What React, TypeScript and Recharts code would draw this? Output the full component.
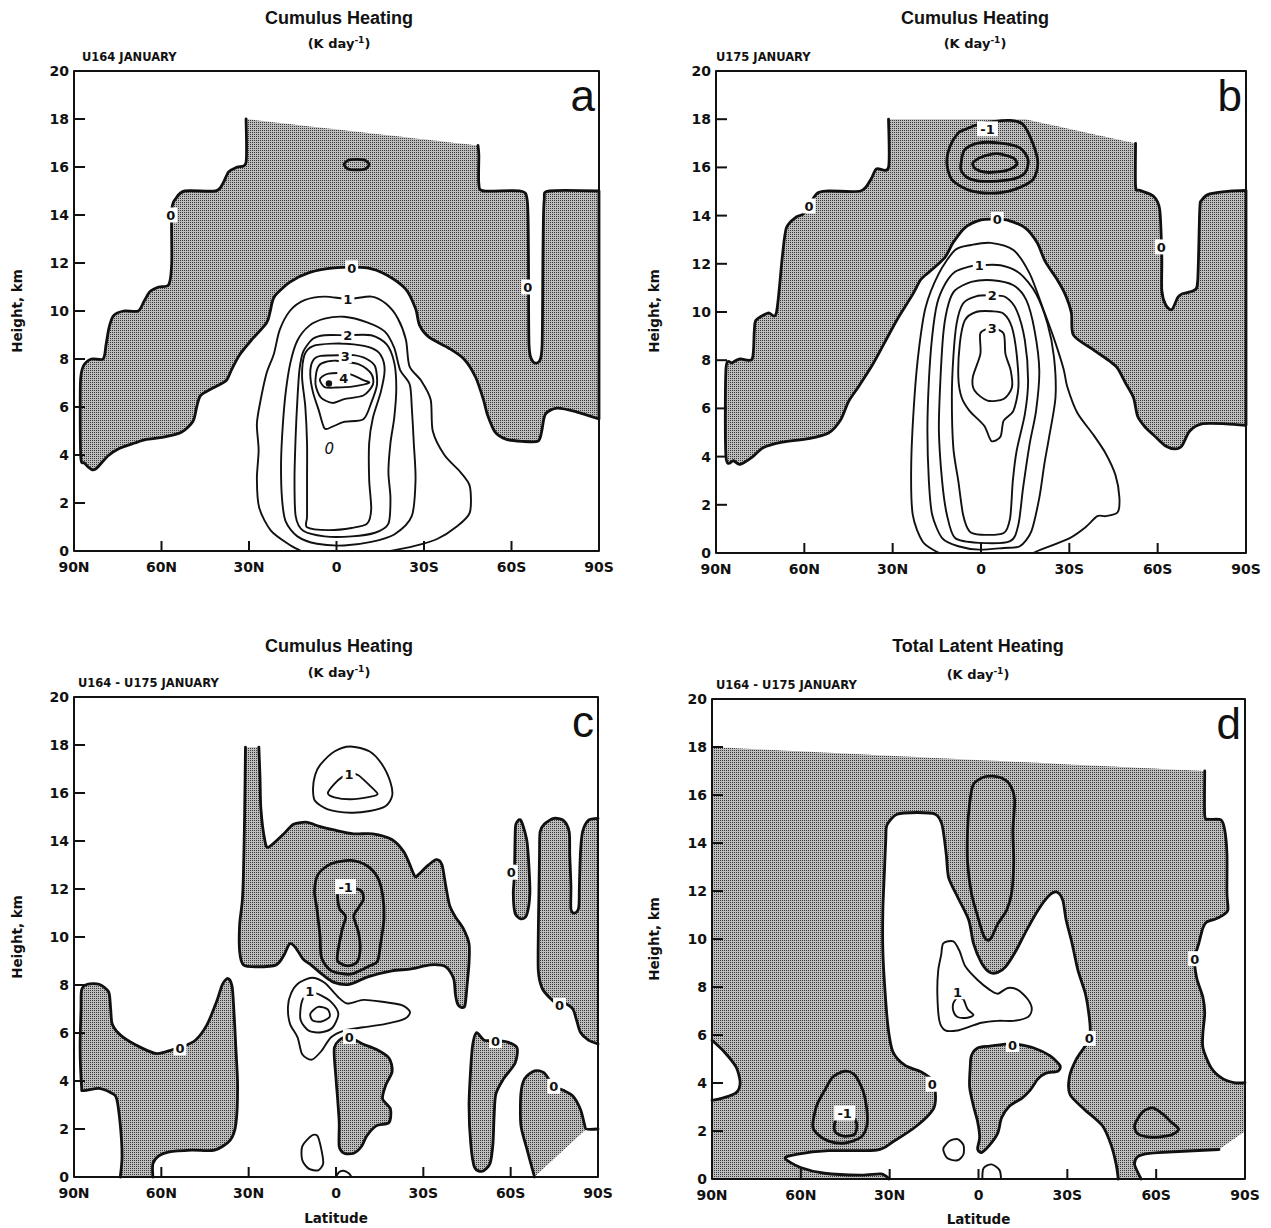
import React from "react";
import { ScatterChart, Scatter, XAxis, YAxis } from "recharts";

// [latitude (+N / -S), height km]
type Pt = [number, number];
type Tag = { x: number; y: number; t: string; kind?: "dot" | "italic" };
type Layer = { pts: Pt[]; fill?: string; stroke?: string; w?: number; closed?: boolean; corners?: number[] };

const latTicks = [90, 60, 30, 0, -30, -60, -90];
const heightTicks = [0, 2, 4, 6, 8, 10, 12, 14, 16, 18, 20];
const frameCorners: Pt[] = [[90, 0], [90, 20], [-90, 20], [-90, 0]];

// ---------- a: U164 cumulus heating ----------
const aShade: Pt[] = [
  [-48.5, 16.9], [-48.8, 16.5], [-48.8, 15.3], [-50.5, 15.0], [-63, 15.0], [-65.4, 14.6], [-65.8, 12.5],
  [-66, 8.6], [-67.3, 7.9], [-69.5, 7.9], [-70.5, 8.6], [-70.8, 12.5], [-71.2, 14.6], [-73, 15.0], [-90, 15.0],
  [-90, 5.5], [-82.2, 5.8], [-75.6, 5.95], [-71.6, 5.7], [-70.3, 4.95], [-69, 4.57], [-63.6, 4.57], [-58.3, 4.65],
  [-54.4, 4.95], [-51.7, 5.7], [-50.4, 6.3], [-47.7, 7.24], [-43.7, 8.0], [-38.4, 8.46], [-31.8, 8.9], [-28.5, 9.4],
  [-27.1, 10.1], [-23.8, 10.9], [-17.2, 11.5], [-10.5, 11.8], [0.8, 11.8], [9.4, 11.6], [16.0, 11.2], [21.3, 10.6],
  [22.7, 10.0], [24, 9.5], [29.3, 8.77], [33.3, 8.16], [36, 7.55], [37.9, 7.09], [42.6, 6.78], [46.6, 6.48],
  [47.9, 6.02], [49.2, 5.41], [53.2, 4.95], [59.9, 4.73], [65.2, 4.65], [69.2, 4.5], [74.5, 4.27], [78.4, 3.96],
  [82.4, 3.43], [84, 3.4], [86.4, 3.66], [87.7, 3.96], [87.8, 7.0], [86.8, 7.7], [84, 8.0], [80, 8.0], [79, 8.6],
  [78, 9.3], [76.5, 9.8], [73, 10.0], [68, 10.0], [66, 10.4], [64, 10.8], [61, 11.0], [57.5, 11.1], [56.5, 12],
  [56.5, 14.2], [55, 14.7], [52, 15.0], [41.5, 15.0], [39, 15.3], [37, 15.8], [34, 16.0], [31, 16.2], [31, 18.0],
];
const aRing16: Pt[] = [[-2.6, 16.1], [-4, 16.28], [-6.9, 16.32], [-9.8, 16.28], [-11.2, 16.1], [-9.8, 15.92], [-6.9, 15.88], [-4, 15.92]];
const aC1: Pt[] = [
  [12, 0], [16, 0.25], [22.5, 0.85], [26.5, 1.8], [27.3, 3.0], [26.7, 4.2], [27.3, 5.3], [26, 6.3], [24, 7.4],
  [21.5, 8.2], [19.5, 9.2], [16, 10.0], [11, 10.45], [4, 10.6], [-4, 10.5], [-12, 10.6], [-17, 10.3], [-21, 9.7],
  [-23.8, 8.8], [-25, 7.7], [-29, 7.1], [-32.3, 6.3], [-33, 5.0], [-37, 4.0], [-42.4, 3.3], [-45.7, 2.7],
  [-45.7, 1.6], [-41, 1.0], [-34.5, 0.5], [-26.5, 0.2], [-18.5, 0],
];
const aC15: Pt[] = [
  [4.1, 9.68], [-2.6, 9.76], [-10.5, 9.53], [-16.5, 9.15], [-19.8, 8.46], [-21.8, 7.55], [-25.1, 6.94], [-25.8, 6.02],
  [-26.5, 4.5], [-27.1, 2.97], [-25.8, 1.45], [-19.8, 0.69], [-11.9, 0.38], [-2.6, 0.23], [6.7, 0.3], [13.4, 0.61],
  [17.4, 1.22], [18.7, 2.21], [19.0, 3.73], [18.4, 5.26], [17.4, 6.63], [15.8, 7.85], [13.4, 8.77], [9.4, 9.38],
];
const aC2: Pt[] = [
  [-3.2, 8.99], [-11.9, 8.99], [-17.2, 8.61], [-19.8, 7.85], [-20.5, 6.78], [-19.8, 5.56], [-18.5, 4.5], [-17.8, 3.28],
  [-18.5, 2.21], [-17.8, 1.14], [-13.2, 0.76], [-5.2, 0.61], [4.1, 0.61], [11.4, 0.84], [14.0, 1.45], [14.4, 2.97],
  [14.0, 4.8], [13.4, 6.33], [12.7, 7.55], [11.4, 8.31], [8.1, 8.84], [4.1, 8.99],
];
const aC25: Pt[] = [
  [10.1, 0.99], [2.75, 0.87], [-5.2, 0.96], [-10.5, 1.14], [-11.9, 1.75], [-11.2, 2.97], [-11.2, 4.5], [-12.5, 5.56],
  [-15.2, 6.63], [-16.5, 7.55], [-15.2, 8.16], [-11.9, 8.46], [-5.9, 8.61], [1.4, 8.64], [8.1, 8.54], [11.0, 8.16],
  [11.8, 7.24], [10.7, 6.02], [10.1, 4.5], [10.1, 2.97], [10.1, 1.45],
];
const aC3: Pt[] = [
  [-2.6, 8.16], [-5.9, 8.16], [-9.9, 8.03], [-13.2, 7.7], [-13.9, 6.94], [-11.9, 6.17], [-9.2, 5.49], [-2.6, 5.38],
  [1.4, 5.18], [4.1, 5.11], [6.1, 5.87], [8.1, 6.63], [9.0, 7.39], [8.1, 7.93], [5.4, 8.13],
];
const aC35: Pt[] = [
  [6.7, 7.55], [5.1, 7.82], [0.1, 7.93], [-7.9, 7.77], [-11.9, 7.39], [-12.5, 6.94], [-9.2, 6.48], [-2.6, 6.33],
  [1.4, 6.17], [5.4, 6.4], [7.2, 6.94],
];
const aC4: Pt[] = [[5.7, 7.16], [2.75, 7.39], [-3.9, 7.39], [-9.2, 7.12], [-11.2, 7.01], [-5.9, 6.86], [0.1, 6.81], [4.1, 6.83]];
const aTags: Tag[] = [
  { x: 56.8, y: 14.0, t: "0" }, { x: -65.6, y: 11.0, t: "0" }, { x: -5.2, y: 11.8, t: "0" },
  { x: -3.9, y: 10.5, t: "1" }, { x: -3.9, y: 9.0, t: "2" }, { x: -3.0, y: 8.14, t: "3" },
  { x: -2.5, y: 7.22, t: "4" }, { x: 2.6, y: 6.98, t: "", kind: "dot" }, { x: 2.5, y: 4.27, t: "0", kind: "italic" },
];

// ---------- b: U175 cumulus heating ----------
const bShade: Pt[] = [
  [-52.5, 17.0], [-52.5, 15.2], [-53.9, 15.05], [-58.6, 14.8], [-60.7, 14.25], [-61.4, 12.3], [-61.4, 10.9],
  [-62.7, 10.3], [-64.8, 10.1], [-66.8, 10.6], [-68.2, 10.75], [-72.3, 10.9], [-73.6, 11.3], [-74.3, 14.25],
  [-75, 14.65], [-77.7, 14.9], [-84.5, 15.02], [-90, 15.05], [-90, 5.3], [-83.2, 5.36], [-75, 5.36], [-70.9, 5.06],
  [-68.2, 4.44], [-66.1, 4.32], [-62.7, 4.44], [-58.6, 4.9], [-55.9, 5.2], [-53.2, 5.67], [-51.8, 6.44],
  [-49.1, 7.05], [-46.4, 7.66], [-43.6, 7.97], [-38.2, 8.43], [-31.4, 9.04], [-30.7, 9.96], [-28.6, 10.73],
  [-25.9, 11.34], [-21.8, 12.1], [-19.1, 12.87], [-15, 13.49], [-9.5, 13.79], [-5.5, 13.85], [0, 13.82],
  [5.5, 13.49], [9.5, 12.87], [12.3, 12.26], [17.7, 11.65], [20.5, 11.34], [23.2, 10.73], [28.6, 9.66],
  [32.7, 8.74], [36.8, 7.82], [41.6, 6.9], [45, 6.28], [47.7, 5.52], [51.8, 4.98], [58.5, 4.75], [67.5, 4.6],
  [74, 4.37], [77.7, 3.98], [81.8, 3.68], [84, 3.83], [86.6, 3.98], [86.6, 7.66], [84.5, 7.89], [81.8, 8.05],
  [77.7, 8.05], [77, 9.2], [76.4, 9.66], [72.3, 9.96], [69.5, 9.96], [67.5, 12.26], [66.1, 13.49], [62.7, 13.95],
  [60, 14.1], [55.9, 14.9], [51.8, 15.02], [40.9, 15.02], [37.5, 15.48], [35.5, 15.94], [31.4, 16.0], [31.4, 18.0],
];
const bShadeTop: Pt[] = [[-15, 18.0]];
const bNegOuter: Pt[] = [
  [5.5, 17.57], [1.1, 17.78], [-4, 17.9], [-9.9, 17.95], [-14.3, 17.78], [-17.6, 17.0], [-19.3, 16.18], [-17.6, 15.49],
  [-11.0, 15.07], [-3.3, 14.93], [4.4, 15.07], [9.9, 15.49], [11.6, 16.18], [10.5, 16.88], [7.7, 17.43],
];
const bNegMid: Pt[] = [
  [6.6, 16.32], [5.5, 16.74], [1.1, 17.01], [-6.6, 17.01], [-13.2, 16.81], [-16.0, 16.32], [-14.9, 15.76],
  [-9.9, 15.49], [-1.1, 15.42], [4.4, 15.56], [6.8, 15.9],
];
const bNegCore: Pt[] = [[2.8, 16.18], [0, 16.42], [-5.5, 16.57], [-11.0, 16.39], [-12.1, 16.11], [-8.8, 15.88], [-2.2, 15.79], [1.7, 15.93]];
const bU05: Pt[] = [
  [14, 0], [15.4, 0.07], [19.9, 0.49], [23.2, 1.6], [23.7, 3.68], [22.6, 6.46], [21.0, 8.54], [18.8, 10.2],
  [14.3, 11.6], [8.8, 12.57], [3.3, 12.78], [-3.3, 12.87], [-11.0, 12.57], [-16.5, 11.6], [-20.9, 10.2],
  [-24.5, 9.0], [-28, 7.66], [-29.3, 6.9], [-32.7, 5.82], [-38.2, 4.9], [-42.3, 4.14], [-45.7, 3.22], [-47, 2.3],
  [-46.4, 1.69], [-42.3, 1.53], [-39.5, 1.53], [-35.5, 1.07], [-30, 0.61], [-20.5, 0.15], [-17.7, 0],
];
const bU1: Pt[] = [
  [0.6, 11.94], [-6.6, 11.94], [-13.2, 11.6], [-18.7, 10.76], [-22.6, 9.51], [-24.8, 8.12], [-25.3, 6.46],
  [-23.1, 4.79], [-21.5, 3.68], [-19.8, 2.29], [-17.1, 0.9], [-13.2, 0.28], [-7.7, 0.21], [0.6, 0.14], [7.7, 0.28],
  [13.2, 0.62], [16.6, 1.6], [17.7, 2.98], [18.2, 5.07], [17.7, 7.15], [16.6, 8.96], [14.9, 10.35], [12.1, 11.18],
  [8.8, 11.67], [4.4, 11.87],
];
const bU15: Pt[] = [
  [-3.8, 11.32], [-11, 11.11], [-15.4, 10.49], [-18.2, 9.23], [-19.8, 7.57], [-18.7, 5.9], [-16.5, 4.51],
  [-14.3, 2.71], [-12.7, 1.18], [-9.9, 0.49], [0.6, 0.42], [8.8, 0.62], [11.6, 1.6], [13.2, 2.98], [14.3, 5.07],
  [13.8, 7.15], [12.7, 9.23], [11.0, 10.35], [8.8, 10.9], [3.3, 11.25],
];
const bU2: Pt[] = [
  [-3.8, 10.69], [-8.3, 10.62], [-12.1, 10.07], [-14.9, 8.82], [-16, 7.15], [-14.9, 5.76], [-12.1, 4.24],
  [-10.8, 2.98], [-9.9, 1.46], [-7.7, 0.83], [0.0, 0.76], [3.9, 0.9], [6.1, 1.6], [7.7, 2.98], [9.4, 4.37],
  [9.9, 6.46], [9.4, 8.12], [8.3, 9.51], [6.1, 10.35], [1.7, 10.65],
];
const bTail: Pt[] = [
  [-3.8, 10.03], [-7.7, 9.93], [-10.5, 9.37], [-12.1, 8.26], [-12.7, 6.87], [-11, 5.9], [-7.7, 5.49], [-6.6, 4.82],
  [-3.5, 4.65], [-1.1, 5.28], [3.9, 5.9], [6.6, 6.46], [7.7, 7.29], [7.2, 8.68], [5.5, 9.65], [1.7, 10.0],
];
const bCore: Pt[] = [
  [-3.8, 9.33], [-7.7, 9.1], [-8.3, 8.26], [-10.1, 7.57], [-10.5, 6.87], [-7.7, 6.39], [-2.2, 6.32], [2.2, 6.74],
  [2.8, 7.29], [0.2, 8.26], [0.2, 9.12],
];
const bTags: Tag[] = [
  { x: 58.4, y: 14.4, t: "0" }, { x: -61.2, y: 12.7, t: "0" }, { x: -5.5, y: 13.84, t: "0" },
  { x: -2.2, y: 17.6, t: "-1" }, { x: 0.6, y: 11.94, t: "1" }, { x: -3.8, y: 10.69, t: "2" }, { x: -3.8, y: 9.33, t: "3" },
];

// ---------- c: U164 - U175 cumulus heating ----------
const cR1: Pt[] = [
  [62.9, 0], [62.9, 0.56], [60.9, 0.88], [57.6, 1.04], [49.6, 1.12], [41.7, 1.12], [36.4, 1.53], [34.4, 2.2],
  [33.8, 3.78], [34.4, 5.38], [35.1, 6.99], [35.7, 7.95], [37.1, 8.27], [39.0, 8.03], [41.0, 7.31], [44.3, 6.35],
  [48.3, 5.7], [53.6, 5.38], [56.3, 5.3], [61.5, 5.14], [66.8, 5.38], [73.5, 5.86], [76.8, 6.35], [77.4, 6.99],
  [78.1, 7.71], [81.4, 8.03], [85.4, 8.03], [87.4, 7.79], [87.6, 6.99], [87.9, 5.38], [87.4, 3.78], [86.8, 3.6],
  [81.4, 3.69], [77.2, 3.5], [75.4, 3.29], [74.1, 2.17], [73.5, 0.88], [74.1, 0],
];
const cR2: Pt[] = [
  [26.5, 17.91], [26.1, 16.63], [25.8, 15.34], [24.5, 14.06], [23.2, 13.74], [17.9, 14.3], [14.6, 14.7], [9.9, 14.78],
  [6.0, 14.62], [0.7, 14.46], [-6.0, 14.3], [-12.6, 14.3], [-19.2, 14.06], [-23.2, 13.57], [-25.1, 13.09],
  [-27.1, 12.53], [-28.4, 12.61], [-31.1, 12.93], [-34.4, 13.22], [-36.4, 13.01], [-37.7, 12.13], [-39.0, 11.33],
  [-41.0, 10.84], [-43.7, 10.36], [-45.7, 9.72], [-45.7, 8.92], [-45.0, 7.95], [-44.3, 7.15], [-43.0, 7.07],
  [-41.7, 7.23], [-41.0, 7.63], [-40.4, 8.27], [-37.7, 8.76], [-32.4, 8.84], [-25.8, 8.67], [-19.2, 8.59],
  [-11.2, 8.35], [-4.6, 8.03], [0.7, 8.11], [4.6, 8.43], [8.6, 8.84], [11.3, 9.08], [13.9, 9.56], [15.9, 9.72],
  [17.9, 9.24], [20.5, 8.84], [27.1, 8.76], [31.8, 8.84], [33.1, 9.4], [33.1, 10.52], [32.2, 11.49], [31.8, 12.61],
  [31.4, 15.02], [31.1, 17.91],
];
const cNegOuter: Pt[] = [
  [7.4, 11.91], [6.1, 12.62], [1.7, 13.05], [-5.0, 13.19], [-10.5, 12.98], [-14.3, 12.48], [-16.0, 11.77],
  [-16.5, 10.78], [-15.4, 9.79], [-14.3, 9.0], [-11.6, 8.8], [-5.0, 8.45], [1.7, 8.6], [5.0, 9.15], [5.5, 10.07], [6.6, 11.21],
];
const cNegKey: Pt[] = [
  [-0.55, 11.84], [-1.1, 11.21], [-3.3, 10.85], [-2.2, 10.35], [-0.8, 9.5], [-0.55, 9.0], [-3.9, 8.8], [-7.2, 8.95],
  [-8.3, 9.5], [-7.7, 10.21], [-6.1, 10.85], [-7.7, 11.21], [-9.4, 11.56], [-8.8, 11.91], [-6.1, 12.03], [-2.2, 12.03],
];
const cTopOuter: Pt[] = [
  [7.9, 16.17], [7.2, 16.74], [5.5, 17.16], [0.55, 17.73], [-5.0, 17.94], [-11.6, 17.73], [-16.0, 17.16],
  [-18.7, 16.45], [-19.3, 15.89], [-17.1, 15.46], [-11.6, 15.25], [-5.0, 15.18], [2.8, 15.32], [7.2, 15.67],
];
const cTopInner: Pt[] = [
  [2.8, 16.0], [0.55, 16.38], [-2.2, 16.67], [-5.0, 16.81], [-7.7, 16.74], [-11.6, 16.31], [-14.3, 15.96],
  [-11.6, 15.84], [-5.0, 15.74], [0.55, 15.82],
];
const cMidOuter: Pt[] = [
  [16.5, 7.09], [15.4, 7.66], [12.7, 8.09], [8.3, 8.3], [3.9, 8.09], [-0.55, 7.52], [-3.9, 7.23], [-9.4, 7.38],
  [-16.0, 7.3], [-22.6, 7.16], [-25.4, 6.88], [-23.7, 6.6], [-17.1, 6.38], [-9.4, 6.24], [-2.8, 6.1], [1.7, 5.82],
  [5.0, 5.25], [8.3, 4.89], [11.6, 5.11], [13.2, 5.82], [15.8, 6.38],
];
const cMidInner: Pt[] = [
  [12.1, 7.09], [11.0, 7.49], [8.3, 7.69], [5.5, 7.59], [1.7, 7.3], [-0.8, 6.81], [1.1, 6.24], [5.0, 6.03],
  [9.4, 6.1], [12.1, 6.52],
];
const cMidCore: Pt[] = [[8.8, 6.81], [6.1, 7.09], [2.8, 6.98], [2.2, 6.67], [5.0, 6.48], [8.0, 6.52]];
const cR3: Pt[] = [
  [0.55, 5.39], [-2.8, 5.82], [-6.1, 5.74], [-9.4, 5.53], [-13.8, 5.32], [-18.2, 4.96], [-19.3, 4.4], [-17.1, 3.83],
  [-16.0, 3.26], [-18.7, 2.84], [-18.2, 2.27], [-13.8, 2.13], [-10.5, 1.7], [-8.8, 1.28], [-6.1, 0.99],
  [-2.8, 0.99], [-1.1, 1.28], [-1.1, 2.27], [-0.55, 3.26], [0, 4.11],
];
const cSmall: Pt[] = [[11.6, 1.28], [8.3, 1.73], [6.3, 1.7], [5.0, 1.13], [4.4, 0.57], [6.1, 0.28], [9.4, 0.35], [11.6, 0.71]];
const cBump: Pt[] = [[0.0, 0], [-1.0, 0.2], [-2.6, 0.26], [-4.5, 0.15], [-5.3, 0]];
const cR4: Pt[] = [
  [-61.8, 14.7], [-63.5, 14.86], [-65.5, 14.06], [-66.2, 13.09], [-66.6, 11.81], [-65.5, 10.92], [-63.5, 10.76],
  [-61.5, 11.0], [-60.9, 11.81], [-61.3, 12.61], [-61.5, 14.06],
];
const cR5: Pt[] = [
  [-90, 14.94], [-86.7, 14.86], [-84.7, 14.38], [-84.0, 13.57], [-83.6, 12.13], [-83.4, 11.24], [-82.0, 11.0],
  [-80.7, 11.16], [-80.7, 12.13], [-80.3, 13.41], [-80.1, 14.38], [-78.1, 14.86], [-74.8, 14.94], [-71.5, 14.7],
  [-70.1, 14.38], [-69.9, 13.41], [-69.7, 11.81], [-69.5, 10.2], [-69.5, 8.59], [-70.8, 7.87], [-73.4, 7.47],
  [-76.8, 7.15], [-78.7, 7.23], [-81.4, 6.99], [-82.7, 6.51], [-84.0, 6.02], [-86.7, 5.7], [-90, 5.54],
];
const cR6: Pt[] = [
  [-48.3, 6.02], [-50.9, 5.7], [-54.3, 5.7], [-58.9, 5.62], [-62.2, 5.38], [-61.5, 4.74], [-57.6, 4.1], [-54.9, 3.45],
  [-54.3, 2.49], [-53.9, 1.37], [-52.9, 0.56], [-50.3, 0.24], [-47.6, 0.4], [-46.3, 1.37], [-45.7, 2.97],
  [-46.3, 4.58], [-47.0, 5.54],
];
const cR7: Pt[] = [
  [-68.2, 0], [-65.5, 1.2], [-63.5, 2.17], [-63.5, 3.45], [-64.8, 4.1], [-68.2, 4.42], [-71.5, 4.34], [-74.8, 3.78],
  [-78.1, 3.61], [-81.4, 3.37], [-84.0, 2.81], [-85.4, 2.17], [-86.0, 2.0],
];
const cR7Tail: Pt[] = [[-90, 2.0]];
const cTags: Tag[] = [
  { x: 53.6, y: 5.38, t: "0" }, { x: -3.3, y: 12.1, t: "-1" }, { x: -4.5, y: 16.8, t: "1" }, { x: 9.0, y: 7.75, t: "1" },
  { x: -4.6, y: 5.85, t: "0" }, { x: -60.2, y: 12.7, t: "0" }, { x: -76.8, y: 7.15, t: "0" },
  { x: -54.8, y: 5.68, t: "0" }, { x: -74.8, y: 3.78, t: "0" },
];

// ---------- d: U164 - U175 total latent heating ----------
const dWestEdge: Pt[] = [[90, 0], [90, 18]];
const dEast: Pt[] = [
  [-76.4, 17.0], [-76.4, 15.15], [-77.8, 14.99], [-81.9, 14.96], [-83.2, 14.51], [-83.9, 13.54], [-83.9, 11.92],
  [-84.2, 11.2], [-82, 10.95], [-79.8, 10.82], [-77.1, 10.71], [-75.8, 10.47], [-74.4, 9.82], [-73.0, 9.18],
  [-73.7, 8.37], [-75.8, 7.56], [-76.4, 6.91], [-75.8, 6.11], [-75.8, 5.46], [-78.5, 4.65], [-82.6, 4.17],
  [-86.7, 4.01], [-90, 4.01],
];
const dRightEdge: Pt[] = [[-90, 1.99]];
const dWedge: Pt[] = [[-54.9, 0], [-52.7, 0.6], [-53.5, 0.9], [-55.4, 1.02], [-60.8, 1.1], [-81.2, 1.23]];
const dW1: Pt[] = [
  [30.2, 0], [32.9, 0.21], [39.7, 0.16], [52.0, 0.24], [60.1, 0.48], [65.3, 0.86], [61.5, 1.03], [50.6, 1.18],
  [34.3, 1.2], [28.9, 1.55], [20.7, 2.23], [15.3, 2.91], [14.5, 3.44], [15.5, 4.09], [19.3, 4.46], [24.8, 4.73],
  [28.9, 5.3], [30.5, 6.27], [31.6, 7.88], [32.3, 9.5], [32.3, 11.2], [31.8, 12.73], [31.3, 14.18], [30.9, 14.75],
  [27.5, 15.2], [20.7, 15.27], [14.6, 15.2], [12.3, 14.75], [10.9, 13.54], [10.1, 12.57], [7.1, 11.76], [3.3, 10.79],
  [1.7, 9.82], [-1.0, 9.01], [-3.8, 8.61], [-6.5, 8.61], [-9.2, 8.85], [-12.6, 9.5], [-16.0, 10.31], [-20.1, 11.2],
  [-24.1, 11.84], [-26.6, 11.95], [-28.5, 11.6], [-29.6, 10.79], [-31.6, 9.82], [-33.6, 8.69], [-36.1, 7.72],
  [-37.4, 6.75], [-37.7, 6.11], [-36.4, 5.62], [-33.0, 4.98], [-30.7, 4.25], [-30.9, 3.52], [-35.7, 2.91],
  [-41.8, 2.23], [-44.8, 1.42], [-46.5, 0.61], [-47.2, 0],
];
const dW2: Pt[] = [[90, 5.78], [85.9, 5.3], [81.8, 4.65], [80.5, 4.01], [81.8, 3.6], [85.9, 3.39], [90, 3.28]];
const dFinger: Pt[] = [
  [3.0, 15.64], [1.7, 16.45], [-2.4, 16.77], [-7.1, 16.74], [-10.5, 16.45], [-12.2, 15.8], [-11.6, 14.51],
  [-11.9, 13.21], [-11.2, 11.92], [-9.5, 11.2], [-6.5, 10.63], [-4.4, 10.06], [-3.1, 9.95], [-1.7, 10.15],
  [0.3, 10.95], [2.4, 11.92], [3.7, 13.21], [3.7, 14.51],
];
const dBlob: Pt[] = [
  [2.4, 5.14], [0.3, 5.46], [-3.8, 5.54], [-9.2, 5.62], [-12.6, 5.62], [-18.7, 5.46], [-24.1, 5.14], [-27.5, 4.73],
  [-26.8, 4.49], [-22.8, 4.41], [-20.1, 4.17], [-17.3, 3.68], [-14.6, 3.36], [-10.5, 3.04], [-7.8, 2.55],
  [-6.5, 1.91], [-3.8, 1.42], [-1.0, 1.1], [0.3, 1.26], [-0.4, 1.74], [0.3, 2.39], [1.7, 3.04], [3.0, 3.84], [2.8, 4.65],
];
const dLoopOuter: Pt[] = [
  [13.6, 8.69], [12.6, 9.34], [11.9, 9.82], [8.5, 9.9], [6.4, 9.5], [4.4, 8.85], [0.3, 8.29], [-3.8, 7.88],
  [-6.5, 7.72], [-9.9, 7.96], [-13.3, 7.88], [-16.7, 7.48], [-18.0, 7.08], [-16.7, 6.75], [-11.9, 6.59],
  [-6.5, 6.59], [-1.0, 6.51], [3.0, 6.35], [7.1, 6.19], [11.2, 6.19], [13.2, 6.59], [13.9, 7.72],
];
const dLoopInner: Pt[] = [[8.5, 7.32], [7.1, 7.56], [5.1, 7.48], [3.7, 7.08], [1.7, 6.83], [3.7, 6.72], [7.1, 6.75], [8.5, 7.0]];
const dSmallLoop: Pt[] = [[11.9, 1.26], [9.8, 1.58], [7.1, 1.66], [5.1, 1.42], [5.1, 1.02], [7.1, 0.78], [10.5, 0.86]];
const dSemi: Pt[] = [[-1.3, 0], [-1.7, 0.45], [-4.4, 0.61], [-7.1, 0.37], [-7.6, 0]];
const dNeg: Pt[] = [
  [56.0, 2.23], [54.7, 3.04], [52.0, 3.68], [49.2, 4.25], [45.2, 4.49], [41.8, 4.33], [39.0, 3.68], [37.7, 2.88],
  [37.7, 2.23], [39.7, 1.74], [45.2, 1.5], [50.6, 1.58], [54.7, 1.91],
];
const dNegCore: Pt[] = [[48.6, 2.3], [48.3, 1.94], [45.2, 1.78], [41.8, 1.87], [41.1, 2.26], [42.5, 2.55], [47.5, 2.55]];
const dBlob60: Pt[] = [
  [-52.7, 2.23], [-55.4, 2.79], [-58.8, 2.96], [-62.2, 2.71], [-64.9, 2.39], [-67.6, 2.07], [-64.9, 1.83],
  [-58.8, 1.74], [-54.0, 1.87],
];
const dTags: Tag[] = [
  { x: -73.0, y: 9.18, t: "0" }, { x: -37.4, y: 5.86, t: "0" }, { x: -11.5, y: 5.6, t: "0" }, { x: 15.6, y: 3.95, t: "0" },
  { x: 7.1, y: 7.8, t: "1" }, { x: 45.2, y: 2.75, t: "-1" },
];

// ---------- drawing ----------
const INK = "#111";
const SHADE = "shade";
const BOLD_W = 2.8;
const THIN_W = 1.9;
const TICK_FONT = "'DejaVu Sans', sans-serif";
const TITLE_FONT = "'Liberation Sans', Arial, sans-serif";

// points sitting on the plot border are joined with straight runs, not curves
const borderCorners = (pts: Pt[]) =>
  pts.reduce<number[]>((acc, [x, y], i) => (Math.abs(x) === 90 || y === 0 ? [...acc, i] : acc), []);

const shadeFill = (pts: Pt[], corners: number[] = []): Layer => ({
  pts, fill: SHADE, closed: true, corners: [...corners, ...borderCorners(pts)],
});
const edgeShade = (pts: Pt[]) => shadeFill(pts, [0, pts.length - 1]);
const whiteFill = (pts: Pt[]): Layer => ({ pts, fill: "#fff", closed: true, corners: borderCorners(pts) });
const zeroLine = (pts: Pt[], closed = true): Layer => ({ pts, stroke: INK, w: BOLD_W, closed, corners: borderCorners(pts) });
const posLine = (pts: Pt[], closed = true): Layer => ({ pts, stroke: INK, w: THIN_W, closed, corners: borderCorners(pts) });

const aLayers: Layer[] = [
  edgeShade(aShade),
  zeroLine(aShade, false),
  zeroLine(aRing16),
  posLine(aC1, false), posLine(aC15), posLine(aC2), posLine(aC25), posLine(aC3), posLine(aC35), posLine(aC4),
];

const bLayers: Layer[] = [
  shadeFill([...bShade, ...bShadeTop], [0, bShade.length - 1, bShade.length]),
  zeroLine(bShade, false),
  zeroLine(bNegOuter), zeroLine(bNegMid), zeroLine(bNegCore),
  posLine(bU05, false), posLine(bU1), posLine(bU15), posLine(bU2), posLine(bTail), posLine(bCore),
];

const cLayers: Layer[] = [
  edgeShade(cR1), edgeShade(cR2), shadeFill(cR3), shadeFill(cR4), edgeShade(cR5), shadeFill(cR6), edgeShade(cR7),
  zeroLine(cR1, false), zeroLine(cR2, false), zeroLine(cR3), zeroLine(cR4), zeroLine(cR5, false), zeroLine(cR6),
  zeroLine([...cR7, ...cR7Tail], false),
  zeroLine(cNegOuter), zeroLine(cNegKey),
  posLine(cTopOuter), posLine(cTopInner), posLine(cMidOuter), posLine(cMidInner), posLine(cMidCore),
  posLine(cSmall), posLine(cBump, false),
];

const dWedgeBack = [...dWedge].reverse();
const dShadeOutline: Pt[] = [...dEast, ...dRightEdge, ...dWedgeBack, ...dWestEdge];

const dLayers: Layer[] = [
  shadeFill(dShadeOutline, [0, dEast.length + 1]),
  whiteFill(dW1), whiteFill(dW2),
  shadeFill(dBlob),
  zeroLine(dEast, false), zeroLine(dWedge, false), zeroLine(dW1, false), zeroLine(dW2, false),
  zeroLine(dFinger), zeroLine(dBlob), zeroLine(dNeg), zeroLine(dNegCore), zeroLine(dBlob60),
  posLine(dLoopOuter), posLine(dLoopInner), posLine(dSmallLoop), posLine(dSemi, false),
];

type XY = { x: number; y: number };

// Catmull-Rom through the projected points as cubic Beziers; corner points get no tangent
function smoothPath(p: XY[], closed: boolean, corners: number[] = [], k = 0.8) {
  const n = p.length;
  const hard = new Set(corners);
  const idx = (i: number) => (closed ? (i + n) % n : Math.min(n - 1, Math.max(0, i)));
  const f = (v: number) => v.toFixed(2);
  let d = `M${f(p[0].x)},${f(p[0].y)}`;
  const segs = closed ? n : n - 1;
  for (let i = 0; i < segs; i++) {
    const ib = idx(i);
    const ic = idx(i + 1);
    const a = p[idx(i - 1)];
    const b = p[ib];
    const c = p[ic];
    const e = p[idx(i + 2)];
    const kb = hard.has(ib) ? 0 : k;
    const kc = hard.has(ic) ? 0 : k;
    const c1x = b.x + ((c.x - a.x) * kb) / 6;
    const c1y = b.y + ((c.y - a.y) * kb) / 6;
    const c2x = c.x - ((e.x - b.x) * kc) / 6;
    const c2y = c.y - ((e.y - b.y) * kc) / 6;
    d += ` C${f(c1x)},${f(c1y)} ${f(c2x)},${f(c2y)} ${f(c.x)},${f(c.y)}`;
  }
  return closed ? d + " Z" : d;
}

function Contour(props: any) {
  const { points, paint, ink, w, shut, corners } = props;
  if (!points || points.length < 2) return null;
  return (
    <path
      d={smoothPath(points, !!shut, corners)}
      fill={paint || "none"}
      stroke={ink || "none"}
      strokeWidth={w || 0}
      strokeLinejoin="round"
      strokeLinecap="round"
    />
  );
}

const blank = () => <g />;

function TagMark(props: any) {
  const { cx, cy, payload } = props;
  if (cx == null || cy == null || !payload) return <g />;
  if (payload.kind === "dot") return <circle cx={cx} cy={cy} r={3.2} fill={INK} />;
  if (payload.kind === "italic")
    return (
      <text x={cx} y={cy + 5} textAnchor="middle" fontFamily={TICK_FONT} fontStyle="italic" fontSize={15} fill={INK}>
        {payload.t}
      </text>
    );
  const w = payload.t.length * 8 + 5;
  return (
    <g>
      <rect x={cx - w / 2} y={cy - 7.5} width={w} height={15} fill="#fff" />
      <text x={cx} y={cy + 5} textAnchor="middle" fontFamily={TICK_FONT} fontWeight="bold" fontSize={13} fill={INK}>
        {payload.t}
      </text>
    </g>
  );
}

const latName = (v: number) => (v > 0 ? `${v}N` : v < 0 ? `${-v}S` : "0");
const isEdgeLat = (v: number) => Math.abs(v) === 90;
const isEdgeHeight = (v: number) => v === 0 || v === 20;

function BottomTick(props: any) {
  const { x, y, payload } = props;
  const v = payload.value as number;
  return (
    <g>
      {!isEdgeLat(v) && <line x1={x} x2={x} y1={y} y2={y - 10} stroke={INK} strokeWidth={2} />}
      <text x={x} y={y + 21} textAnchor="middle" fontFamily={TICK_FONT} fontWeight="bold" fontSize={14} fill={INK}>
        {latName(v)}
      </text>
    </g>
  );
}

function TopTick(props: any) {
  const { x, y, payload } = props;
  if (isEdgeLat(payload.value)) return <g />;
  return <line x1={x} x2={x} y1={y} y2={y + 10} stroke={INK} strokeWidth={2} />;
}

function LeftTick(props: any) {
  const { x, y, payload } = props;
  const v = payload.value as number;
  return (
    <g>
      {!isEdgeHeight(v) && <line x1={x} x2={x + 11} y1={y} y2={y} stroke={INK} strokeWidth={2} />}
      <text x={x - 5} y={y + 5} textAnchor="end" fontFamily={TICK_FONT} fontWeight="bold" fontSize={14} fill={INK}>
        {v}
      </text>
    </g>
  );
}

function RightTick(props: any) {
  const { x, y, payload } = props;
  if (isEdgeHeight(payload.value)) return <g />;
  return <line x1={x} x2={x - 11} y1={y} y2={y} stroke={INK} strokeWidth={2} />;
}

const rows = (pts: Pt[]) => pts.map(([x, y]) => ({ x, y }));

type PanelSpec = {
  id: string;
  left: number;
  top: number;
  width: number;
  height: number;
  // plot box edges in panel coordinates
  plot: { left: number; right: number; top: number; bottom: number };
  title: string;
  titleX: number;
  titleY: number;
  unitsY: number;
  run: string;
  runX: number;
  runY: number;
  heightLabelX: number;
  heightLabelY: number;
  latitudeY?: number;
  layers: Layer[];
  tags: Tag[];
};

const panels: PanelSpec[] = [
  {
    id: "a", left: 0, top: 0, width: 635, height: 600, plot: { left: 74, right: 599, top: 71, bottom: 551 },
    title: "Cumulus Heating", titleX: 339, titleY: 18, unitsY: 43, run: "U164 JANUARY", runX: 82, runY: 58,
    heightLabelX: 18, heightLabelY: 311, layers: aLayers, tags: aTags,
  },
  {
    id: "b", left: 636, top: 0, width: 635, height: 600, plot: { left: 80, right: 610, top: 71, bottom: 553 },
    title: "Cumulus Heating", titleX: 339, titleY: 18, unitsY: 43, run: "U175 JANUARY", runX: 80, runY: 58,
    heightLabelX: 19, heightLabelY: 311, layers: bLayers, tags: bTags,
  },
  {
    id: "c", left: 0, top: 600, width: 635, height: 628, plot: { left: 74, right: 598, top: 97, bottom: 577 },
    title: "Cumulus Heating", titleX: 339, titleY: 46, unitsY: 72, run: "U164 - U175 JANUARY", runX: 78, runY: 84,
    heightLabelX: 18, heightLabelY: 337, latitudeY: 619, layers: cLayers, tags: cTags,
  },
  {
    id: "d", left: 636, top: 600, width: 635, height: 628, plot: { left: 76, right: 609, top: 99, bottom: 579 },
    title: "Total Latent Heating", titleX: 342, titleY: 46, unitsY: 74, run: "U164 - U175 JANUARY", runX: 80, runY: 86,
    heightLabelX: 19, heightLabelY: 339, latitudeY: 620, layers: dLayers, tags: dTags,
  },
];

const centered = (x: number, y: number): React.CSSProperties => ({
  position: "absolute",
  left: x,
  top: y,
  transform: "translate(-50%, -50%)",
  whiteSpace: "nowrap",
  lineHeight: 1,
  color: INK,
});

// each axis takes 1px of the margin
const AXIS_PX = 1;

function Panel({ spec }: { spec: PanelSpec }) {
  const pid = `stipple-${spec.id}`;
  const paint = (f?: string) => (f === SHADE ? `url(#${pid})` : f);
  const { plot } = spec;
  const margin = {
    top: plot.top - AXIS_PX,
    left: plot.left - AXIS_PX,
    right: spec.width - plot.right - AXIS_PX,
    bottom: spec.height - plot.bottom - AXIS_PX,
  };
  const plotCenterX = (plot.left + plot.right) / 2;
  return (
    <div style={{ position: "absolute", left: spec.left, top: spec.top, width: spec.width, height: spec.height }}>
      <ScatterChart width={spec.width} height={spec.height} margin={margin}>
        <defs>
          <pattern id={pid} width={2} height={2} patternUnits="userSpaceOnUse">
            <rect width={2} height={2} fill="#bdbdbd" />
            <rect width={1} height={1} fill="#3a3a3a" />
          </pattern>
        </defs>
        {spec.layers.map((l, i) => (
          <Scatter
            key={`${spec.id}-${i}`}
            data={rows(l.pts)}
            isAnimationActive={false}
            shape={blank}
            line={<Contour paint={paint(l.fill)} ink={l.stroke} w={l.w} shut={l.closed} corners={l.corners} />}
          />
        ))}
        <Scatter data={spec.tags} isAnimationActive={false} shape={(p: any) => <TagMark {...p} />} />
        <Scatter
          data={rows(frameCorners)}
          isAnimationActive={false}
          shape={blank}
          line={<Contour ink={INK} w={2} shut corners={[0, 1, 2, 3]} />}
        />
        <XAxis
          dataKey="x" type="number" domain={[-90, 90]} reversed ticks={latTicks} interval={0}
          height={AXIS_PX} tickSize={0} tickMargin={0} axisLine={false} tickLine={false}
          tick={(p: any) => <BottomTick {...p} />}
        />
        <XAxis
          xAxisId="top" orientation="top" type="number" domain={[-90, 90]} reversed ticks={latTicks}
          interval={0} height={AXIS_PX} tickSize={0} tickMargin={0} axisLine={false} tickLine={false}
          tick={(p: any) => <TopTick {...p} />}
        />
        <YAxis
          dataKey="y" type="number" domain={[0, 20]} ticks={heightTicks} interval={0}
          width={AXIS_PX} tickSize={0} tickMargin={0} axisLine={false} tickLine={false}
          tick={(p: any) => <LeftTick {...p} />}
        />
        <YAxis
          yAxisId="right" orientation="right" type="number" domain={[0, 20]} ticks={heightTicks}
          interval={0} width={AXIS_PX} tickSize={0} tickMargin={0} axisLine={false} tickLine={false}
          tick={(p: any) => <RightTick {...p} />}
        />
      </ScatterChart>

      <div style={{ ...centered(spec.titleX, spec.titleY), fontFamily: TITLE_FONT, fontWeight: 700, fontSize: 18 }}>
        {spec.title}
      </div>
      <div style={{ ...centered(spec.titleX, spec.unitsY), fontFamily: TICK_FONT, fontWeight: 700, fontSize: 13 }}>
        (K day
        <span style={{ fontSize: 9, position: "relative", top: -5 }}>-1</span>)
      </div>
      <div
        style={{
          position: "absolute", left: spec.runX, top: spec.runY, transform: "translateY(-50%)", whiteSpace: "nowrap",
          lineHeight: 1, fontFamily: TICK_FONT, fontWeight: 700, fontSize: 11.5, color: INK,
        }}
      >
        {spec.run}
      </div>
      <div
        style={{
          ...centered(spec.heightLabelX, spec.heightLabelY),
          transform: "translate(-50%, -50%) rotate(-90deg)",
          fontFamily: TICK_FONT, fontWeight: 700, fontSize: 13.5,
        }}
      >
        Height, km
      </div>
      {spec.latitudeY !== undefined && (
        <div style={{ ...centered(plotCenterX, spec.latitudeY), fontFamily: TICK_FONT, fontWeight: 700, fontSize: 13.5 }}>
          Latitude
        </div>
      )}
      <div
        style={{
          position: "absolute", right: spec.width - plot.right + 4, top: plot.top + 3, lineHeight: 1,
          fontFamily: TITLE_FONT, fontSize: 44, color: INK,
        }}
      >
        {spec.id}
      </div>
    </div>
  );
}

export default function App() {
  return (
    <div style={{ position: "absolute", left: 0, top: 0, width: 1271, height: 1228, background: "#fff", overflow: "hidden" }}>
      {panels.map((p) => (
        <Panel key={p.id} spec={p} />
      ))}
    </div>
  );
}
